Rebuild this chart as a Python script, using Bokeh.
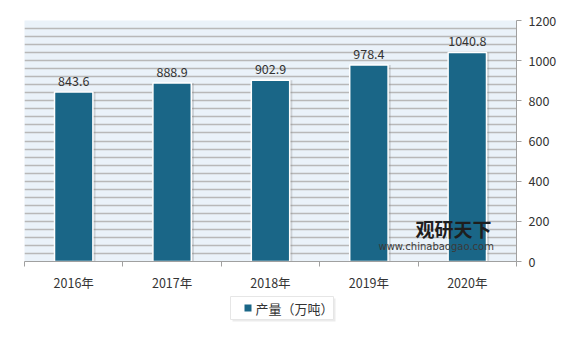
from bokeh.plotting import figure
from bokeh.layouts import column
from bokeh.models import (ColumnDataSource, FixedTicker, LinearAxis, Label, Range1d)
from bokeh.core.properties import value
from bokeh.embed import file_html
from bokeh.resources import INLINE

years = ["2016年", "2017年", "2018年", "2019年", "2020年"]
output = [843.6, 888.9, 902.9, 978.4, 1040.8]
y_ticks = [0, 200, 400, 600, 800, 1000, 1200]
series_name = "产量（万吨）"

xs = list(range(len(years)))
src = ColumnDataSource(dict(x=xs, top=output, lab=[f"{v:.1f}" for v in output],
                            xs=[x + 0.012 for x in xs]))

FONT = "Noto Sans CJK SC"
BAR = "#1A6687"
W = 573
H_MAIN = 294
H_LEG = 338 - H_MAIN
FL, FR = 24, 516  # frame edges (page px)

p = figure(width=W, height=H_MAIN, output_backend="svg", toolbar_location=None,
           x_range=Range1d(-0.5, len(years) - 0.5), y_range=Range1d(0, 1200),
           y_axis_location=None, x_axis_location=None,
           min_border_left=FL, min_border_right=W - FR, min_border_top=20, min_border_bottom=33)
p.background_fill_color = "#EAF2F9"
p.border_fill_color = "white"
p.outline_line_color = None

# grid every 40
p.xgrid.visible = False
p.ygrid.ticker = FixedTicker(ticks=list(range(0, 1201, 40)))
p.ygrid.grid_line_color = "#B8B8B8"
p.ygrid.grid_line_width = 1.4

# shadow behind bars
p.vbar(x="xs", top="top", width=0.42, bottom=0, source=src, fill_color="#7F7F7F",
       fill_alpha=0.28, line_color=None)
bars = p.vbar(x="x", top="top", width=0.39, bottom=0, source=src, fill_color=BAR,
              line_color="white", line_width=1.5)

p.text(x="x", y="top", text="lab", source=src, text_align="center", text_baseline="bottom",
       y_offset=-6, text_font=value(FONT), text_font_size="12.5px", text_color="#333333")

# right axis
ya = LinearAxis(ticker=FixedTicker(ticks=y_ticks))
ya.axis_line_color = "#A0A0A0"
ya.major_tick_line_color = "#A0A0A0"
ya.major_tick_in = 0
ya.major_tick_out = 5
ya.minor_tick_line_color = None
ya.major_label_standoff = 7
ya.major_label_text_font = FONT
ya.major_label_text_font_size = "12.5px"
ya.major_label_text_color = "#333333"
p.add_layout(ya, "right")

# bottom axis
xa = LinearAxis(ticker=FixedTicker(ticks=xs, minor_ticks=[x - 0.5 for x in xs] + [len(xs) - 0.5]))
xa.major_label_overrides = {i: y for i, y in enumerate(years)}
xa.axis_line_color = "#A0A0A0"
xa.major_tick_line_color = None
xa.major_tick_in = 0
xa.major_tick_out = 0
xa.minor_tick_line_color = "#A0A0A0"
xa.minor_tick_in = 0
xa.minor_tick_out = 5
xa.major_label_standoff = 6
xa.major_label_text_font = FONT
xa.major_label_text_font_size = "12.5px"
xa.major_label_text_color = "#333333"
p.add_layout(xa, "below")

# watermark (screen units relative to the plot frame)
p.add_layout(Label(x=391, y=20, x_units="screen", y_units="screen", text="观研天下",
                   text_font=FONT, text_font_size="19px", text_font_style="bold",
                   text_color="#1E1E1E"))
p.add_layout(Label(x=354, y=10, x_units="screen", y_units="screen",
                   text="www.chinabaogao.com", text_font="DejaVu Sans", text_font_size="10px",
                   text_color="#3A3A3A"))

# legend strip: frame aligned with the main frame, data coords = page px (y downward)
lg = figure(frame_width=FR - FL, frame_height=H_LEG, output_backend="svg", toolbar_location=None,
            x_range=Range1d(FL, FR), y_range=Range1d(H_LEG, 0),
            x_axis_location=None, y_axis_location=None,
            min_border=0, min_border_left=FL, min_border_right=W - FR,
            min_border_top=0, min_border_bottom=0)
lg.grid.visible = False
lg.outline_line_color = None
lg.background_fill_color = "white"
lg.border_fill_color = "white"
lg.quad(left=[232], right=[335], top=[4], bottom=[27], fill_color="#D8D8D8",
        fill_alpha=0.5, line_color=None)
lg.quad(left=[230], right=[333], top=[2], bottom=[25], fill_color="white",
        line_color="#E6E6E6", line_width=1)
lg.scatter(x=[247.5], y=[13.5], marker="square", size=7, fill_color=BAR, line_color=None)
lg.text(x=[255], y=[13.5], text=[series_name], text_align="left", text_baseline="middle",
        text_font=value(FONT), text_font_size="13px", text_color="#333333")

layout = column(p, lg, spacing=0)
open("out.html", "w").write(file_html(layout, INLINE))
